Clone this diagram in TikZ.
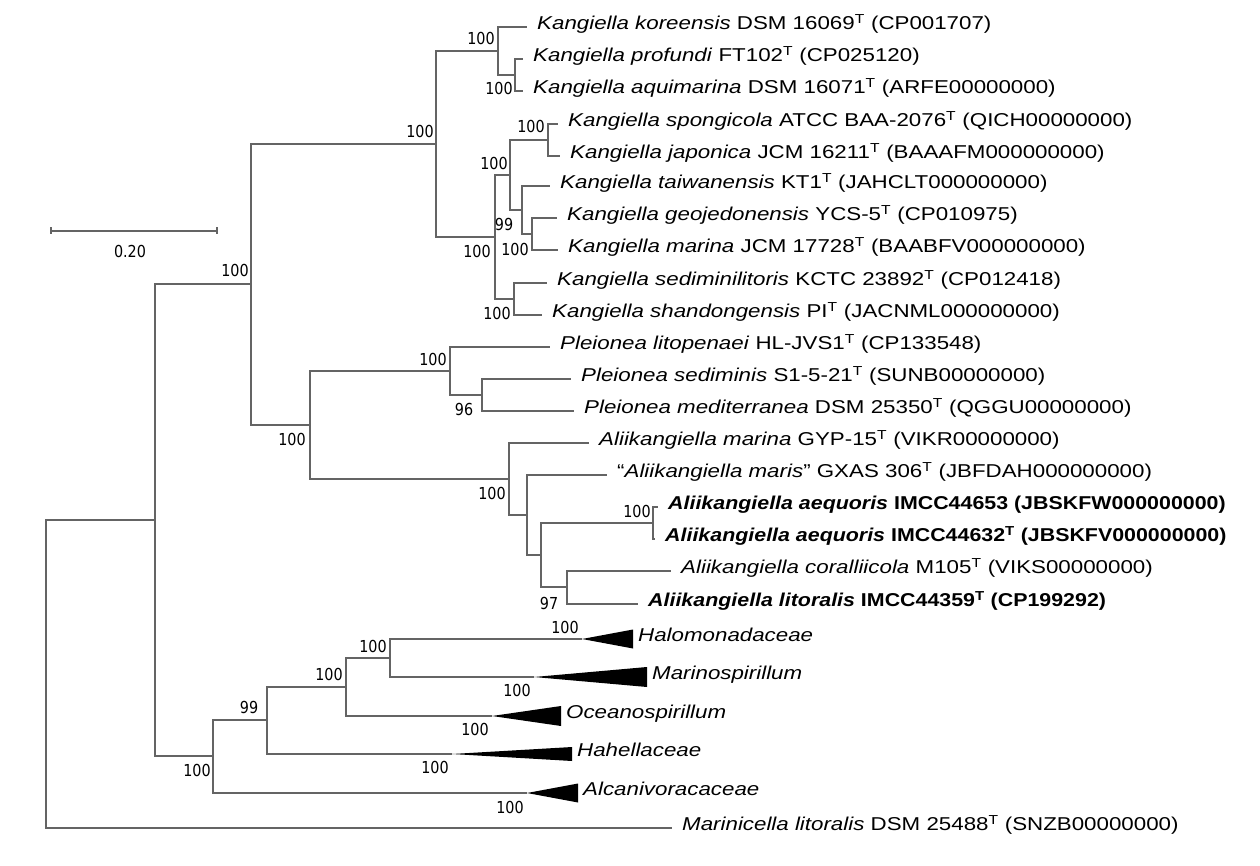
\documentclass[tikz,border=0pt]{standalone}
\usepackage{fontspec}
\setmainfont{Liberation Sans}
\newfontfamily\leaffont[FakeStretch=1.2]{Liberation Sans}
\newfontfamily\boldleaffont[FakeStretch=1.15]{Liberation Sans}
\newfontfamily\bootfont[FakeStretch=0.87]{DejaVu Sans}
\definecolor{treegray}{RGB}{100,100,100}
\newcommand{\typestr}{\textsuperscript{T}}

\begin{document}
\begin{tikzpicture}[x=1pt, y=-1pt,
    leaf/.style={anchor=mid west, inner xsep=10pt, inner ysep=0pt,
        font=\leaffont\fontsize{18.6}{20}\selectfont},
    newleaf/.style={leaf, font=\boldleaffont\bfseries\fontsize{18.6}{20}\selectfont},
    cladename/.style={leaf, inner xsep=5pt},
    branch/.style={draw=treegray, line width=1.2pt},
    boot/.style={inner sep=0pt, font=\bootfont\fontsize{16.5}{18}\selectfont},
    clade/.style={fill=black}
]
\useasboundingbox (0,0) rectangle (1260,866);

% scale bar
\coordinate (barL) at (51,231);
\coordinate (barR) at (217,231);
\draw[branch] (barL) -- (barR);
\draw[branch] ([yshift=3.5pt]barL) -- ([yshift=-3.5pt]barL);
\draw[branch] ([yshift=3.5pt]barR) -- ([yshift=-3.5pt]barR);
\node[boot] (barlabel) at (130,251) {0.20};

% internal nodes
\coordinate (kA) at (515,75);
\coordinate (kB) at (498,51);
\coordinate (kC) at (548,140);
\coordinate (kD) at (532,234);
\coordinate (kE) at (522,210);
\coordinate (kF) at (510,175);
\coordinate (kG) at (514,299);
\coordinate (kH) at (495,237);
\coordinate (kangiella) at (436,144);
\coordinate (pA) at (482,395);
\coordinate (pleionea) at (450,371);
\coordinate (aA) at (653,523);
\coordinate (aB) at (567,587);
\coordinate (aC) at (541,555);
\coordinate (aD) at (527,515);
\coordinate (aliikangiella) at (509,479);
\coordinate (pleio-alii) at (310,425);
\coordinate (kangiellaceae) at (251,284);
\coordinate (oA) at (390,658);
\coordinate (oB) at (346,687);
\coordinate (oC) at (267,720);
\coordinate (oceanospirillales) at (213,756);
\coordinate (ingroup) at (155,520);
\coordinate (root) at (46,674);

% leaves
\node[leaf] (koreensis) at (527,27) {\textit{Kangiella koreensis} DSM 16069\typestr{} (CP001707)};
\node[leaf] (profundi) at (523,59) {\textit{Kangiella profundi} FT102\typestr{} (CP025120)};
\node[leaf] (aquimarina) at (523,91) {\textit{Kangiella aquimarina} DSM 16071\typestr{} (ARFE00000000)};
\node[leaf] (spongicola) at (558,124) {\textit{Kangiella spongicola} ATCC BAA-2076\typestr{} (QICH00000000)};
\node[leaf] (japonica) at (560,156) {\textit{Kangiella japonica} JCM 16211\typestr{} (BAAAFM000000000)};
\node[leaf] (taiwanensis) at (550,186) {\textit{Kangiella taiwanensis} KT1\typestr{} (JAHCLT000000000)};
\node[leaf] (geojedonensis) at (557,218) {\textit{Kangiella geojedonensis} YCS-5\typestr{} (CP010975)};
\node[leaf] (kmarina) at (558,250) {\textit{Kangiella marina} JCM 17728\typestr{} (BAABFV000000000)};
\node[leaf] (sediminilitoris) at (547,283) {\textit{Kangiella sediminilitoris} KCTC 23892\typestr{} (CP012418)};
\node[leaf] (shandongensis) at (542,315) {\textit{Kangiella shandongensis} PI\typestr{} (JACNML000000000)};
\node[leaf] (litopenaei) at (550,347) {\textit{Pleionea litopenaei} HL-JVS1\typestr{} (CP133548)};
\node[leaf] (sediminis) at (571,379) {\textit{Pleionea sediminis} S1-5-21\typestr{} (SUNB00000000)};
\node[leaf] (mediterranea) at (574,411) {\textit{Pleionea mediterranea} DSM 25350\typestr{} (QGGU00000000)};
\node[leaf] (amarina) at (589,443) {\textit{Aliikangiella marina} GYP-15\typestr{} (VIKR00000000)};
\node[leaf] (maris) at (607,475) {“\textit{Aliikangiella maris}” GXAS 306\typestr{} (JBFDAH000000000)};
\node[newleaf] (aequoris1) at (658,507) {\textit{Aliikangiella aequoris} IMCC44653 (JBSKFW000000000)};
\node[newleaf] (aequoris2) at (655,539) {\textit{Aliikangiella aequoris} IMCC44632\typestr{} (JBSKFV000000000)};
\node[leaf] (coralliicola) at (671,571) {\textit{Aliikangiella coralliicola} M105\typestr{} (VIKS00000000)};
\node[newleaf] (litoralis) at (638,604) {\textit{Aliikangiella litoralis} IMCC44359\typestr{} (CP199292)};
\node[leaf] (marinicella) at (672,828) {\textit{Marinicella litoralis} DSM 25488\typestr{} (SNZB00000000)};

% collapsed clades
\coordinate (halo) at (582,639);
\coordinate (marino) at (534,677);
\coordinate (oceano) at (492,716);
\coordinate (hahella) at (452,754);
\coordinate (alcani) at (527,793);
\node[cladename] (halomonadaceae) at (633,639) {\textit{Halomonadaceae}};
\node[cladename] (marinospirillum) at (647,677) {\textit{Marinospirillum}};
\node[cladename] (oceanospirillum) at (561,716) {\textit{Oceanospirillum}};
\node[cladename] (hahellaceae) at (572,754) {\textit{Hahellaceae}};
\node[cladename] (alcanivoracaceae) at (578,793) {\textit{Alcanivoracaceae}};
\fill[clade] (halo) -- ([yshift=9.5pt]halomonadaceae.mid west) -- ([yshift=-9.5pt]halomonadaceae.mid west) -- cycle;
\fill[clade] (marino) -- ([yshift=10pt]marinospirillum.mid west) -- ([yshift=-10pt]marinospirillum.mid west) -- cycle;
\fill[clade] (oceano) -- ([yshift=10pt]oceanospirillum.mid west) -- ([yshift=-10pt]oceanospirillum.mid west) -- cycle;
\fill[clade] (hahella) -- ([yshift=7pt]hahellaceae.mid west) -- ([yshift=-7pt]hahellaceae.mid west) -- cycle;
\fill[clade] (alcani) -- ([yshift=9.5pt]alcanivoracaceae.mid west) -- ([yshift=-9.5pt]alcanivoracaceae.mid west) -- cycle;

% branches
\draw[branch] (kA) |- (profundi.mid west);
\draw[branch] (kA) |- (aquimarina.mid west);
\draw[branch] (kB) |- (koreensis.mid west);
\draw[branch] (kB) |- (kA);
\draw[branch] (kC) |- (spongicola.mid west);
\draw[branch] (kC) |- (japonica.mid west);
\draw[branch] (kD) |- (geojedonensis.mid west);
\draw[branch] (kD) |- (kmarina.mid west);
\draw[branch] (kE) |- (taiwanensis.mid west);
\draw[branch] (kE) |- (kD);
\draw[branch] (kF) |- (kC);
\draw[branch] (kF) |- (kE);
\draw[branch] (kG) |- (sediminilitoris.mid west);
\draw[branch] (kG) |- (shandongensis.mid west);
\draw[branch] (kH) |- (kF);
\draw[branch] (kH) |- (kG);
\draw[branch] (kangiella) |- (kB);
\draw[branch] (kangiella) |- (kH);
\draw[branch] (pA) |- (sediminis.mid west);
\draw[branch] (pA) |- (mediterranea.mid west);
\draw[branch] (pleionea) |- (litopenaei.mid west);
\draw[branch] (pleionea) |- (pA);
\draw[branch] (aA) |- (aequoris1.mid west);
\draw[branch] (aA) |- (aequoris2.mid west);
\draw[branch] (aB) |- (coralliicola.mid west);
\draw[branch] (aB) |- (litoralis.mid west);
\draw[branch] (aC) |- (aA);
\draw[branch] (aC) |- (aB);
\draw[branch] (aD) |- (maris.mid west);
\draw[branch] (aD) |- (aC);
\draw[branch] (aliikangiella) |- (amarina.mid west);
\draw[branch] (aliikangiella) |- (aD);
\draw[branch] (pleio-alii) |- (pleionea);
\draw[branch] (pleio-alii) |- (aliikangiella);
\draw[branch] (kangiellaceae) |- (kangiella);
\draw[branch] (kangiellaceae) |- (pleio-alii);
\draw[branch] (oA) |- (halo);
\draw[branch] (oA) |- (marino);
\draw[branch] (oB) |- (oA);
\draw[branch] (oB) |- (oceano);
\draw[branch] (oC) |- (oB);
\draw[branch] (oC) |- (hahella);
\draw[branch] (oceanospirillales) |- (oC);
\draw[branch] (oceanospirillales) |- (alcani);
\draw[branch] (ingroup) |- (kangiellaceae);
\draw[branch] (ingroup) |- (oceanospirillales);
\draw[branch] (root) |- (ingroup);
\draw[branch] (root) |- (marinicella.mid west);

% bootstrap values
\node[boot] (bkB) at (481,38) {100};
\node[boot] (bkA) at (499,88) {100};
\node[boot] (bkangiella) at (420,131) {100};
\node[boot] (bkC) at (531,126) {100};
\node[boot] (bkF) at (494,163) {100};
\node[boot] (bkE) at (504,224) {99};
\node[boot] (bkH) at (477,251) {100};
\node[boot] (bkD) at (515,249) {100};
\node[boot] (bkG) at (497,313) {100};
\node[boot] (bpleionea) at (433,359) {100};
\node[boot] (bpA) at (464,409) {96};
\node[boot] (bpleio-alii) at (292,439) {100};
\node[boot] (baliikangiella) at (492,493) {100};
\node[boot] (baA) at (637,511) {100};
\node[boot] (baB) at (549,603) {97};
\node[boot] (bkangiellaceae) at (235,270) {100};
\node[boot] (boA) at (373,646) {100};
\node[boot] (boB) at (329,674) {100};
\node[boot] (boC) at (249,707) {99};
\node[boot] (boceanospirillales) at (197,770) {100};
\node[boot] (bhalo) at (565,627) {100};
\node[boot] (bmarino) at (517,690) {100};
\node[boot] (boceano) at (475,729) {100};
\node[boot] (bhahella) at (435,767) {100};
\node[boot] (balcani) at (510,807) {100};
\end{tikzpicture}
\end{document}
